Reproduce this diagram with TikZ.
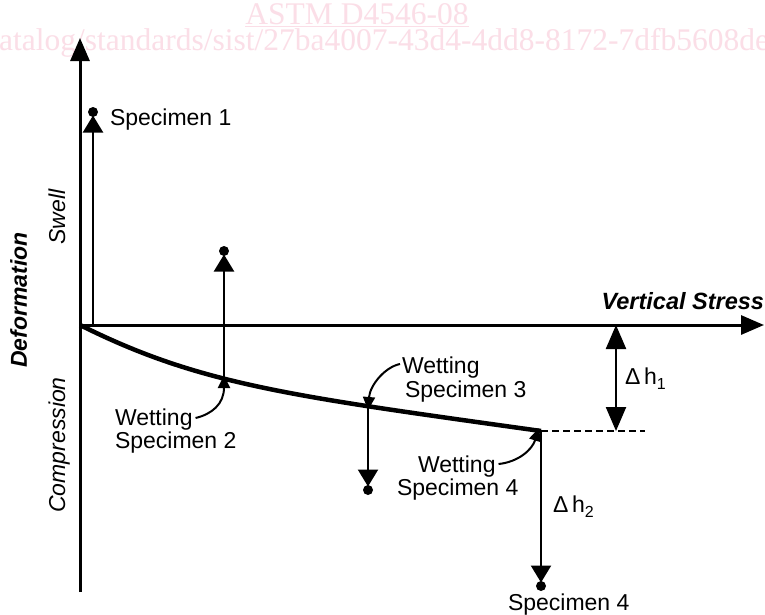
\documentclass[tikz,border=0pt]{standalone}
\usepackage{fontspec}
\setmainfont{Liberation Sans}
\newfontfamily\wmfont{Liberation Serif}
\usetikzlibrary{arrows.meta}
\definecolor{wmpink}{RGB}{251,222,231}
\begin{document}
\begin{tikzpicture}[x=1pt,y=-1pt,
  lbl/.style={font=\fontsize{23}{27}\selectfont, inner sep=0pt, outer sep=0pt},
  axlbl/.style={font=\fontsize{23}{27}\selectfont\itshape, inner sep=0pt, rotate=90, anchor=base},
  wmtext/.style={font=\wmfont\fontsize{31.5}{36}\selectfont, text=wmpink, inner sep=0pt, anchor=base},
  axisline/.style={line width=3pt, -{Triangle[width=19pt,length=23pt]}},
  curveline/.style={line width=4.5pt},
  specarrow/.style={line width=2.3pt, -{Triangle[width=20pt,length=17pt]}, shorten >=3.5pt},
  dot/.style={circle, fill=black, inner sep=0pt, minimum size=10pt},
  dblarrow/.style={line width=2.3pt, {Triangle[width=20pt,length=24pt]}-{Triangle[width=20pt,length=24pt]}},
  wetarrow/.style={line width=2pt, -{Triangle[width=12pt,length=13pt]}},
  guide/.style={line width=1.5pt, dash pattern=on 7pt off 4pt}
]
\useasboundingbox (0,0) rectangle (765,614);
\fill[white] (0,0) rectangle (765,614);

% watermark
\node[wmtext] (wm1) at (357,24) {\underline{ASTM D4546-08}};
\node[wmtext] (wm2) at (384,50) {atalog/standards/sist/27ba4007-43d4-4dd8-8172-7dfb5608de};

% axes
\coordinate (O) at (80,325);
\coordinate (ytop) at (80,38);
\coordinate (ybot) at (80,592);
\coordinate (xend) at (764,325);
\draw[axisline] (ybot) -- (ytop);
\draw[axisline] (O) -- (xend);

% curve
\coordinate (c2) at (224,379);
\coordinate (c3) at (368,406);
\coordinate (c4) at (541,431);
\draw[curveline] (O) .. controls (200,385) and (291,396) .. (c4);

% specimen 1
\coordinate (s1) at (93,325);
\node[dot] (d1) at (93,112) {};
\draw[specarrow] (s1) -- (d1.center);
% specimen 2
\node[dot] (d2) at (224,251) {};
\draw[specarrow] (c2) -- (d2.center);
% specimen 3
\node[dot] (d3) at (368,490) {};
\draw[specarrow] (c3) -- (d3.center);
% specimen 4
\node[dot] (d4) at (541,586) {};
\draw[specarrow] (c4) -- (d4.center);

% dashed guide and delta h1
\coordinate (g1) at (645,431);
\draw[guide] (c4) -- (g1);
\coordinate (h1a) at (616,325);
\coordinate (h1b) at (616,431);
\draw[dblarrow] (h1a) -- (h1b);

% labels
\node[lbl, anchor=base west] (L1) at (110,125) {Specimen 1};
\node[lbl, anchor=base west] (W2) at (115,425) {Wetting};
\node[lbl, anchor=base west] (S2) at (115,448) {Specimen 2};
\node[lbl, anchor=base west] (W3) at (402,373) {Wetting};
\node[lbl, anchor=base west] (S3) at (405,397) {Specimen 3};
\node[lbl, anchor=base west] (W4) at (418,472) {Wetting};
\node[lbl, anchor=base west] (S4) at (397,495) {Specimen 4};
\node[lbl, anchor=base west] (L4) at (508,610) {Specimen 4};
\node[lbl, anchor=base west] (dh1) at (625,384) {Δ\,h\raisebox{-5pt}{\fontsize{16}{16}\selectfont 1}};
\node[lbl, anchor=base west] (dh2) at (553,512) {Δ\,h\raisebox{-5pt}{\fontsize{16}{16}\selectfont 2}};
\node[lbl, anchor=base east, font=\fontsize{23.5}{27}\selectfont\bfseries\itshape] (VS) at (764,309) {Vertical Stress};

% wetting arrows
\draw[wetarrow] (W2.base east) ++(3,-7) coordinate (w2s) .. controls (212,414) and (224,404) .. ([yshift=4pt]c2);
\draw[wetarrow] (W3.base west) ++(-2,-9) coordinate (w3s) .. controls (385,367) and (370,385) .. ([yshift=-4pt]c3);
\draw[wetarrow] (W4.base east) ++(3,-8) coordinate (w4s) .. controls (518,462) and (532,450) .. ([xshift=-2pt,yshift=3pt]c4);

% axis labels
\node[axlbl] (sw) at (65,217) {Swell};
\node[axlbl, font=\fontsize{23}{27}\selectfont\bfseries\itshape] (df) at (27,300) {Deformation};
\node[axlbl] (cp) at (65,445) {Compression};
\end{tikzpicture}
\end{document}
